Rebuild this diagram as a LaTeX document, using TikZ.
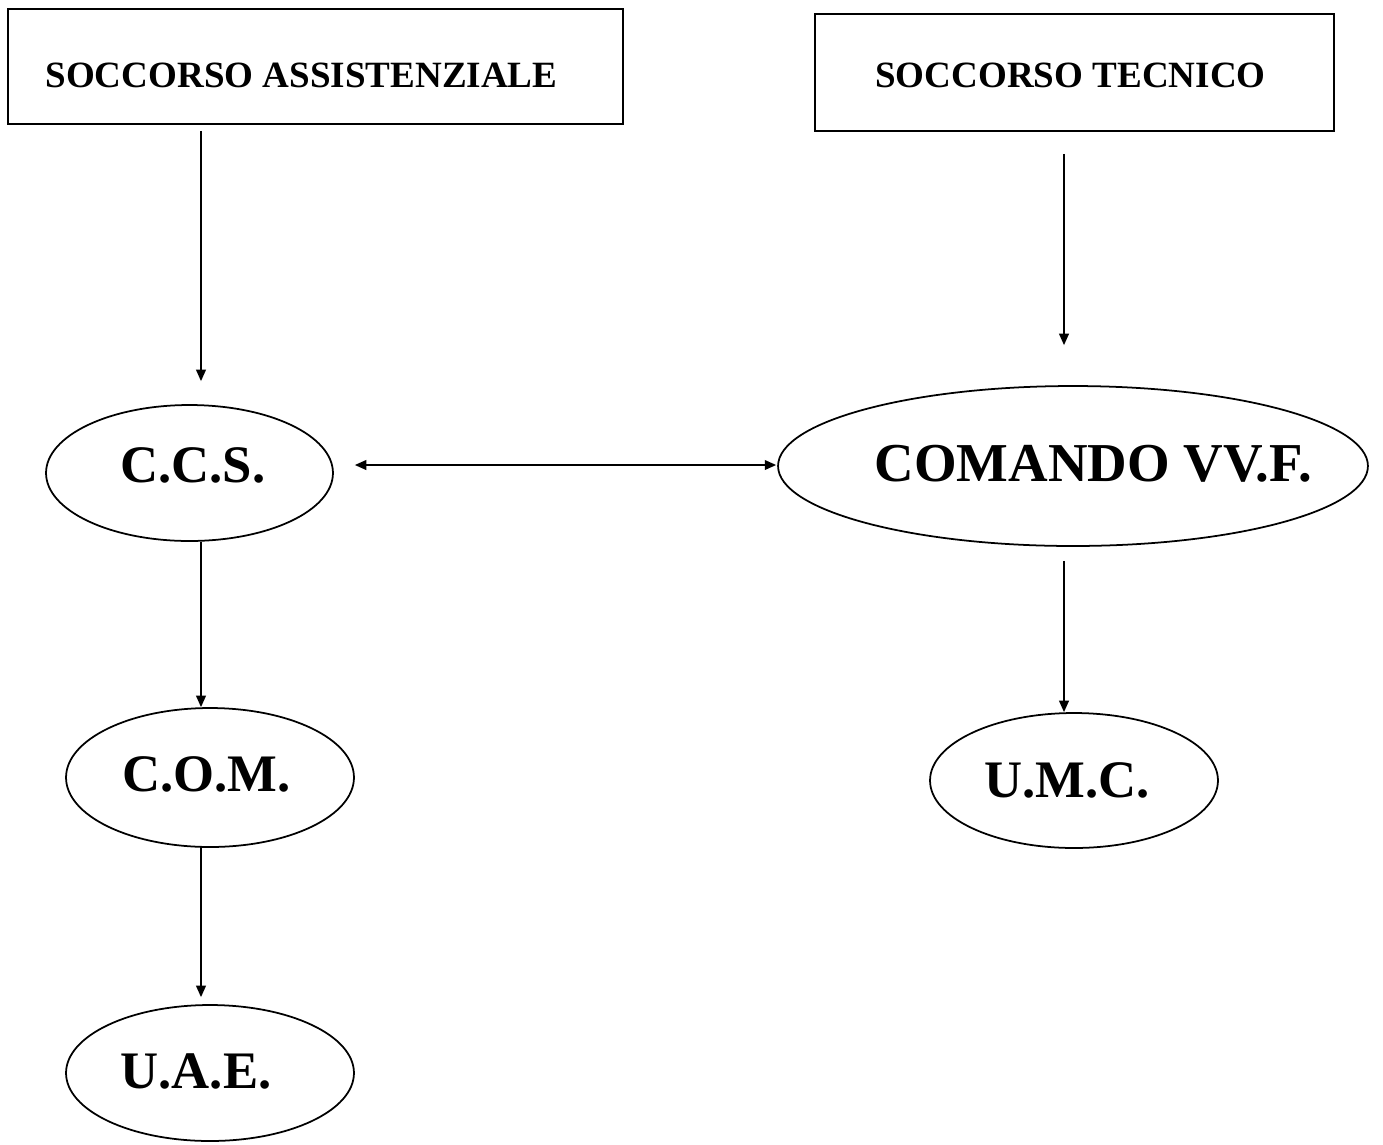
\documentclass[tikz,border=0pt]{standalone}
\usepackage{fontspec}
\setmainfont{Liberation Serif}
\usetikzlibrary{arrows.meta, shapes.geometric}

\begin{document}
\begin{tikzpicture}[
    x=0.02cm, y=-0.02cm,
    box/.style={
        draw,
        line width=1pt,
        inner sep=0pt
    },
    boxtext/.style={
        font=\fontsize{21.1}{25}\selectfont\bfseries
    },
    oval/.style={
        draw,
        ellipse,
        line width=1pt,
        inner sep=0pt
    },
    ovaltext/.style={
        font=\fontsize{30}{36}\selectfont\bfseries
    },
    arrow/.style={
        -{Triangle[length=6.5pt,width=5.5pt]},
        line width=1pt
    },
    dblarrow/.style={
        {Triangle[length=6.5pt,width=5.5pt]}-{Triangle[length=6.5pt,width=5.5pt]},
        line width=1pt
    }
]
\useasboundingbox (0,0) rectangle (1383,1144);

% Boxes
\node (assist) [box, minimum width=12.3cm, minimum height=2.3cm,
    label={[boxtext, xshift=-8pt, yshift=-4.8pt]center:SOCCORSO ASSISTENZIALE}] at (315.5,66.5) {};
\node (tecnico) [box, minimum width=10.38cm, minimum height=2.34cm,
    label={[boxtext, xshift=-2.3pt, yshift=-1.4pt]center:SOCCORSO TECNICO}] at (1074.5,72.5) {};

% Ellipses
\node (ccs) [oval, minimum width=5.74cm, minimum height=2.72cm,
    label={[ovaltext, xshift=2pt, yshift=4.5pt]center:C.C.S.}] at (189.5,473) {};
\node (vvf) [oval, minimum width=11.8cm, minimum height=3.2cm,
    label={[ovaltext, font=\fontsize{31.2}{36}\selectfont\bfseries, xshift=11.5pt, yshift=1pt]center:COMANDO VV.F.}] at (1073,466) {};
\node (com) [oval, minimum width=5.76cm, minimum height=2.78cm,
    label={[ovaltext, xshift=-2pt, yshift=1.5pt]center:C.O.M.}] at (210,777.5) {};
\node (uae) [oval, minimum width=5.76cm, minimum height=2.72cm,
    label={[ovaltext, xshift=-8pt, yshift=1pt]center:U.A.E.}] at (210,1073) {};
\node (umc) [oval, minimum width=5.76cm, minimum height=2.7cm,
    label={[ovaltext, xshift=-4pt]center:U.M.C.}] at (1074,780.5) {};

% Paths
\coordinate (lx) at (201,0);
\coordinate (rx) at (1064,0);
\coordinate (hy) at (0,465);
\draw [arrow, shorten <=0.12cm, shorten >=0.46cm] (assist.south -| lx) -- (ccs.north -| lx);
\draw [arrow, shorten <=0.44cm, shorten >=0.8cm] (tecnico.south -| rx) -- (vvf.north -| rx);
\draw [dblarrow, shorten <=0.42cm, shorten >=0.02cm] (ccs.east |- hy) -- (vvf.west |- hy);
\draw [arrow] (ccs.south -| lx) -- (com.north -| lx);
\draw [arrow, shorten <=-0.04cm, shorten >=0.14cm] (com.south -| lx) -- (uae.north -| lx);
\draw [arrow, shorten <=0.28cm] (vvf.south -| rx) -- (umc.north -| rx);

\end{tikzpicture}
\end{document}
